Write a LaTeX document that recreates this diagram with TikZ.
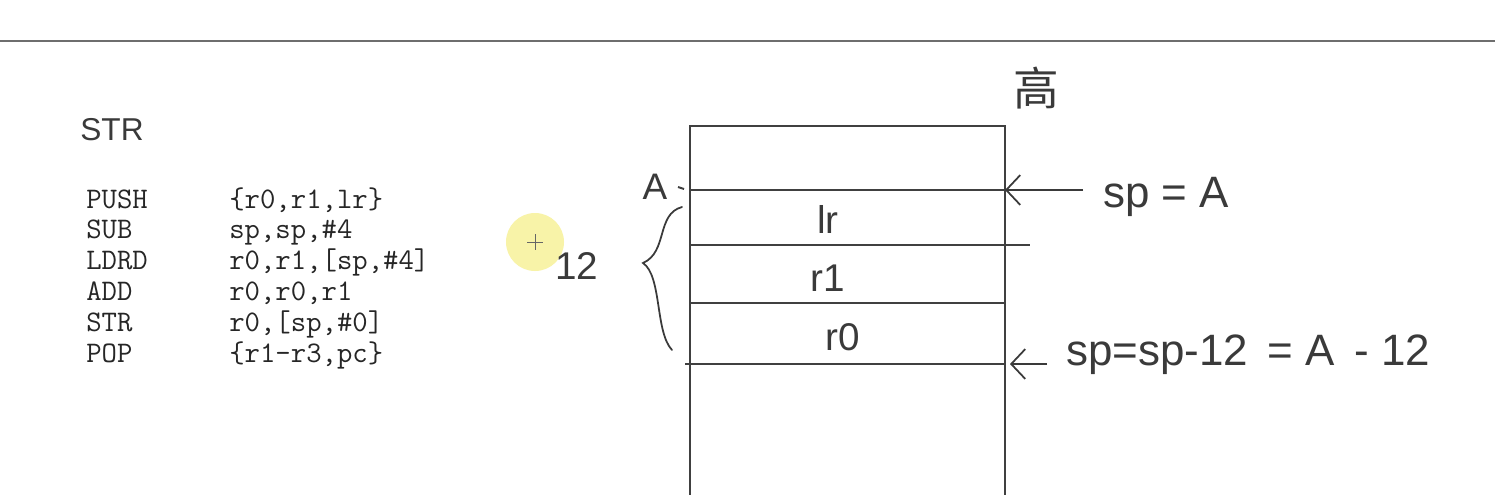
\documentclass[tikz,border=0pt]{standalone}
\usepackage{fontspec}
\usepackage{xcolor}
\setmainfont{Liberation Sans}
\newfontfamily\cjkfont{Noto Sans CJK SC}
\usetikzlibrary{arrows.meta,positioning}
\definecolor{inkGray}{HTML}{3A3A3A}
\definecolor{ruleGray}{HTML}{6E6E6E}
\definecolor{cursorYellow}{HTML}{F8F3A8}

\begin{document}
\begin{tikzpicture}[
    x=0.02cm, y=-0.02cm,
    code/.style={anchor=base west, inner sep=0pt, text=black!85,
                 font=\fontsize{17}{20}\selectfont\ttfamily},
    hand/.style={inner sep=0pt, text=inkGray,
                 font=\fontsize{22}{24}\selectfont},
    slot/.style={line width=1.1pt, draw=black!75},
    ptr/.style={-{Straight Barb[length=8pt,width=17pt]}, line width=1pt, draw=inkGray}
  ]
    \useasboundingbox (0,0) rectangle (1495,494);
    \fill[white] (0,0) rectangle (1495,494);
    \draw[ruleGray, line width=1.5pt] (0,41) -- (1495,41);

    \node[hand, font=\fontsize{18}{20}\selectfont] (title) at (112,130) {STR};
    \foreach \op/\args [count=\i from 0] in {PUSH/{\{r0,r1,lr\}}, SUB/{sp,sp,\#4},
        LDRD/{r0,r1,[sp,\#4]}, ADD/{r0,r0,r1}, STR/{r0,[sp,\#0]}, POP/{\{r1-r3,pc\}}} {
      \node[code] (op\i)  at (86, 208+30.8*\i) {\op};
      \node[code] (arg\i) at (229,208+30.8*\i) {\args};
    }

    \fill[cursorYellow] (535,242) circle [radius=29];
    \draw[black!60, line width=0.5pt] (527,242) -- (543,242) (535,234) -- (535,250);

    \coordinate (stTL) at (690,126);
    \coordinate (stTR) at (1005,126);
    \draw[slot] (690,500) -- (stTL) -- (stTR) -- (1005,500);
    \coordinate (lineA) at (1005,190);
    \coordinate (lineB) at (1010,364);
    \draw[slot] (690,190) -- (lineA);
    \draw[slot] (678,187) -- (684,189);
    \draw[slot] (690,245) -- (1030,245);
    \draw[slot] (690,303) -- (1005,303);
    \draw[slot] (685,364) -- (1005,364);

    \node[hand] (lr) at (828,219) {lr};
    \node[hand] (r1) at (828,278) {r1};
    \node[hand] (r0) at (843,337) {r0};
    \node[hand, font=\fontsize{21}{22}\selectfont] (labA) at (655,187) {A};
    \node[hand] (twelve) at (577,266) {12};
    \draw[inkGray, line width=1pt, line cap=round]
      (682,207) .. controls (656,214) and (668,252) .. (643,263)
      .. controls (662,276) and (655,332) .. (672,350);
    \node[hand, font=\fontsize{26}{28}\selectfont\cjkfont] (high) at (1036,88) {高};

    \coordinate (srcA) at (1083,190);
    \coordinate (srcB) at (1047,364);
    \draw[ptr] (srcA) -- (lineA);
    \draw[ptr] (srcB) -- (lineB);
    \node[hand, font=\fontsize{25}{26}\selectfont, anchor=west] (spA) at (1103,197) {sp = A};
    \node[hand, font=\fontsize{25}{26}\selectfont, anchor=west] (spB) at (1066,355) {sp=sp-12 \,= A \,- 12};
  \end{tikzpicture}
\end{document}
